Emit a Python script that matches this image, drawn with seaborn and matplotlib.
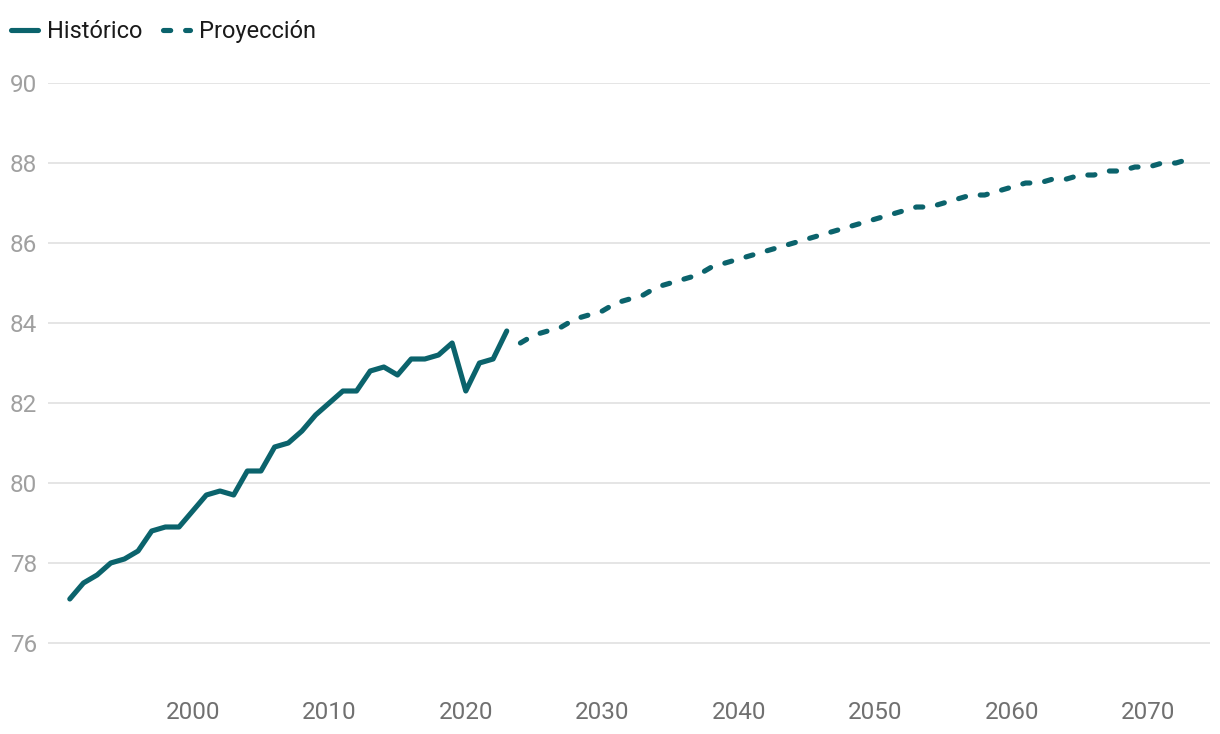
import matplotlib
matplotlib.use('Agg')
import numpy as np
import pandas as pd
import seaborn as sns
import matplotlib.pyplot as plt

# Data
years_hist = list(range(1991, 2024))
values_hist = [77.1, 77.5, 77.7, 78.0, 78.1, 78.3, 78.8, 78.9, 78.9, 79.3,
               79.7, 79.8, 79.7, 80.3, 80.3, 80.9, 81.0, 81.3, 81.7, 82.0,
               82.3, 82.3, 82.8, 82.9, 82.7, 83.1, 83.1, 83.2, 83.5, 82.3,
               83.0, 83.1, 83.8]

years_proj = list(range(2024, 2074))
values_proj = [83.5, 83.7, 83.8, 83.9, 84.1, 84.2, 84.3, 84.5, 84.6, 84.7,
               84.9, 85.0, 85.1, 85.2, 85.4, 85.5, 85.6, 85.7, 85.8, 85.9,
               86.0, 86.1, 86.2, 86.3, 86.4, 86.5, 86.6, 86.7, 86.8, 86.9,
               86.9, 87.0, 87.1, 87.2, 87.2, 87.3, 87.4, 87.5, 87.5, 87.6,
               87.6, 87.7, 87.7, 87.8, 87.8, 87.9, 87.9, 88.0, 88.0, 88.1]

x_ticks = [2000, 2010, 2020, 2030, 2040, 2050, 2060, 2070]
y_ticks = [76, 78, 80, 82, 84, 86, 88, 90]

LINE_COLOR = "#0b636c"

sns.set_theme(style="white")
plt.rcParams['font.family'] = ['Roboto', 'DejaVu Sans']

df_hist = pd.DataFrame({"year": years_hist, "value": values_hist})
df_proj = pd.DataFrame({"year": years_proj, "value": values_proj})

fig = plt.figure(figsize=(12.2, 7.34), dpi=100)
ax = fig.add_axes([0.0393, 0.0695, 0.9525, 0.8174])

sns.lineplot(data=df_hist, x="year", y="value", ax=ax, color=LINE_COLOR,
             linewidth=3.7, solid_capstyle="round", solid_joinstyle="round",
             label="Histórico")
sns.lineplot(data=df_proj, x="year", y="value", ax=ax, color=LINE_COLOR,
             linewidth=3.7, dashes=(1.4, 2.9), dash_capstyle="round",
             label="Proyección")

ax.set_xlim(1989.4, 2074.5)
ax.set_ylim(75, 90)
ax.set_xticks(x_ticks)
ax.set_yticks(y_ticks)
ax.set_xlabel("")
ax.set_ylabel("")

ax.grid(axis="y", color="#e3e3e3", linewidth=1.3)
ax.set_axisbelow(True)
for s in ax.spines.values():
    s.set_visible(False)

ax.tick_params(axis="x", length=0, pad=13, labelsize=17.5, labelcolor="#707070")
ax.tick_params(axis="y", length=0, pad=8, labelsize=17.5, labelcolor="#a0a0a0")

ax.legend(loc="center left", bbox_to_anchor=(0.003, 0.957),
          bbox_transform=fig.transFigure, ncol=2, frameon=False,
          fontsize=17, handlelength=1.15, handletextpad=0.4,
          columnspacing=0.85, borderaxespad=0, borderpad=0.3,
          labelcolor="#1a1a1a")

fig.savefig("out.png", dpi=100)
